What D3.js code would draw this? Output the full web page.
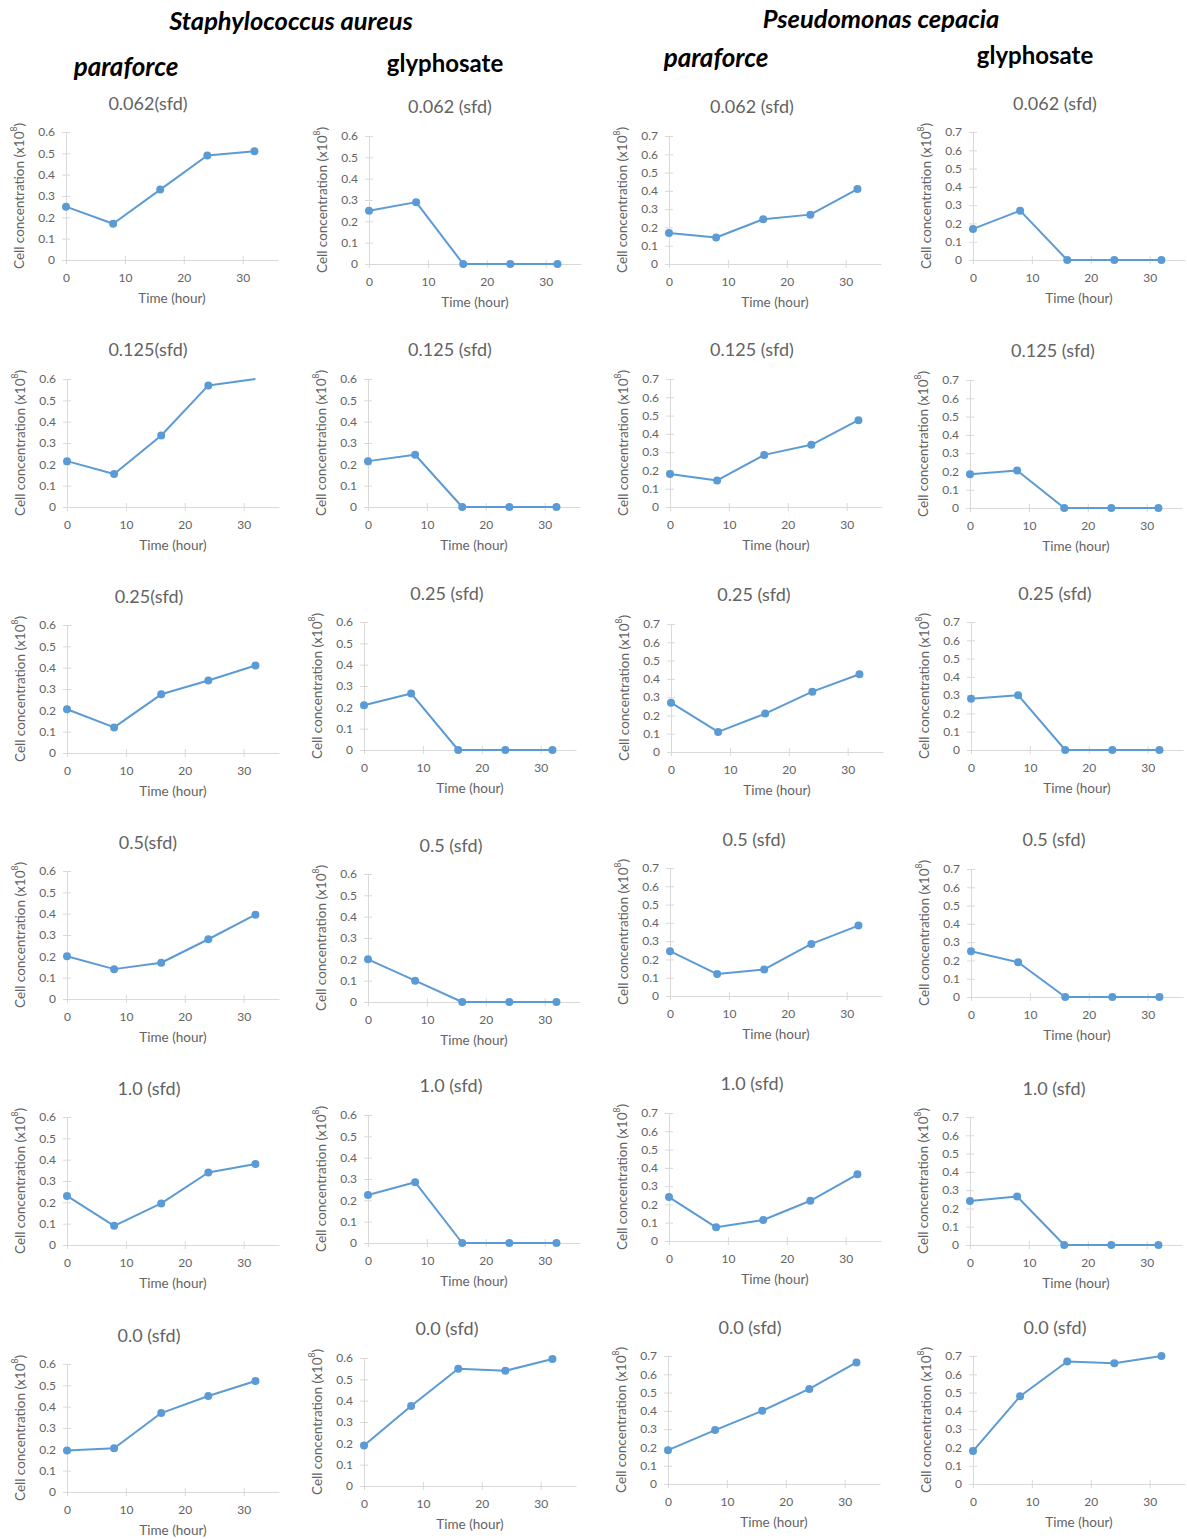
<!DOCTYPE html>
<html>
<head>
<meta charset="utf-8">
<script src="https://cdn.jsdelivr.net/npm/d3@7"></script>
<style>
  body { margin: 0; background: #fff; }
  text { font-family: Lato, "Open Sans", sans-serif; }
</style>
</head>
<body>
<svg id="chart"></svg>
<script>
// sampling times (hour)
const times = [0, 8, 16, 24, 32];
const xTicks = [0, 10, 20, 30];

// panel titles, one list per column (rows top to bottom)
const titlesSaParaforce = ['0.062(sfd)', '0.125(sfd)', '0.25(sfd)', '0.5(sfd)', '1.0 (sfd)', '0.0 (sfd)'];
const titlesOther = ['0.062 (sfd)', '0.125 (sfd)', '0.25 (sfd)', '0.5 (sfd)', '1.0 (sfd)', '0.0 (sfd)'];

// cell concentration (x10^8), one row per dose
const saParaforce = [
  [0.25, 0.17, 0.33, 0.49, 0.51],
  [0.215, 0.155, 0.335, 0.57, 0.60],
  [0.205, 0.12, 0.275, 0.34, 0.41],
  [0.20, 0.14, 0.17, 0.28, 0.395],
  [0.23, 0.09, 0.195, 0.34, 0.38],
  [0.195, 0.205, 0.37, 0.45, 0.52]
];
const saGlyphosate = [
  [0.25, 0.29, 0, 0, 0],
  [0.215, 0.245, 0, 0, 0],
  [0.21, 0.265, 0, 0, 0],
  [0.20, 0.10, 0, 0, 0],
  [0.225, 0.285, 0, 0, 0],
  [0.19, 0.375, 0.55, 0.54, 0.595]
];
const pcParaforce = [
  [0.17, 0.145, 0.245, 0.27, 0.41],
  [0.18, 0.145, 0.285, 0.34, 0.475],
  [0.27, 0.11, 0.21, 0.33, 0.425],
  [0.245, 0.12, 0.145, 0.285, 0.385],
  [0.24, 0.075, 0.115, 0.22, 0.365],
  [0.185, 0.295, 0.40, 0.52, 0.665]
];
const pcGlyphosate = [
  [0.17, 0.27, 0, 0, 0],
  [0.185, 0.205, 0, 0, 0],
  [0.28, 0.30, 0, 0, 0],
  [0.25, 0.19, 0, 0, 0],
  [0.24, 0.265, 0, 0, 0],
  [0.18, 0.48, 0.67, 0.66, 0.70]
];

const columns = [
  { data: saParaforce, titles: titlesSaParaforce, yMax: 0.6 },
  { data: saGlyphosate, titles: titlesOther, yMax: 0.6 },
  { data: pcParaforce, titles: titlesOther, yMax: 0.7 },
  { data: pcGlyphosate, titles: titlesOther, yMax: 0.7 }
];

// marker not shown in the original (line runs to top edge)
const hiddenMarkers = [{ col: 0, row: 1, idx: 4 }];

// layout: [axis x origin, y of zero line, title x, title y] per row, per column
const layout = [
  [[66, 260, 148, 103], [369, 264, 450, 106], [669, 264, 752, 106], [973, 260, 1055, 103]],
  [[67, 507, 148, 349], [368, 507, 450, 349], [670, 507, 752, 349], [970, 508, 1053, 350]],
  [[67, 753, 149, 596], [364, 750, 447, 593], [671, 752, 754, 594], [971, 750, 1055, 593]],
  [[67, 999, 148, 842], [368, 1002, 451, 845], [670, 996, 754, 839], [971, 997, 1054, 839]],
  [[67, 1245, 149, 1088], [368, 1243, 451, 1085], [669, 1241, 752, 1083], [970, 1245, 1054, 1088]],
  [[67, 1492, 149, 1335], [364, 1486, 447, 1328], [668, 1484, 750, 1327], [973, 1484, 1055, 1327]]
];

const plotW = 212, plotH = 128;
const blue = '#5b9bd5';
const gridGrey = '#d9d9d9';
const textGrey = '#636363';

let svg = d3.select('#chart')
  .attr('width', 1187)
  .attr('height', 1539);

svg.append('rect').attr('width', 1187).attr('height', 1539).attr('fill', '#fff');

// headers
let headers = [
  { text: 'Staphylococcus aureus', x: 291, y: 20, italic: true, size: 25.5 },
  { text: 'Pseudomonas cepacia', x: 881, y: 18, italic: true, size: 25.5 },
  { text: 'paraforce', x: 126, y: 66, italic: true, size: 26 },
  { text: 'glyphosate', x: 445, y: 62, italic: false, size: 24 },
  { text: 'paraforce', x: 716, y: 57, italic: true, size: 26 },
  { text: 'glyphosate', x: 1035, y: 54, italic: false, size: 24 }
];
svg.selectAll('.header')
  .data(headers)
  .enter()
  .append('text')
  .attr('class', 'header')
  .attr('x', d => d.x)
  .attr('y', d => d.y)
  .attr('text-anchor', 'middle')
  .attr('dominant-baseline', 'central')
  .attr('font-size', d => d.size)
  .attr('font-weight', 'bold')
  .attr('font-style', d => d.italic ? 'italic' : 'normal')
  .attr('fill', '#000')
  .text(d => d.text);

columns.forEach((col, c) => {
  col.data.forEach((values, r) => {
    let [x0, y0, tx, ty] = layout[r][c];

    let xScale = d3.scaleLinear().domain([0, 36]).range([x0, x0 + plotW]);
    let yScale = d3.scaleLinear().domain([0, col.yMax]).range([y0, y0 - plotH]);

    let g = svg.append('g').attr('class', `panel panel-${r}-${c}`);

    // title
    g.append('text')
      .attr('x', tx)
      .attr('y', ty)
      .attr('text-anchor', 'middle')
      .attr('dominant-baseline', 'central')
      .attr('font-size', 18)
      .attr('fill', textGrey)
      .text(col.titles[r]);

    // y axis
    let yAxis = g.append('g')
      .attr('transform', `translate(${x0},0)`)
      .call(d3.axisLeft(yScale)
        .tickValues(d3.range(0, col.yMax + 0.001, 0.1))
        .tickFormat(v => v === 0 ? '0' : d3.format('.1f')(v))
        .tickSize(4)
        .tickPadding(7));
    yAxis.select('.domain').attr('stroke', gridGrey);
    yAxis.selectAll('.tick line').attr('stroke', gridGrey).attr('x2', 4).attr('x1', -4);
    yAxis.selectAll('.tick text')
      .attr('fill', textGrey)
      .attr('font-size', 12)
      .attr('font-family', 'Lato, sans-serif');

    // x axis
    let xAxis = g.append('g')
      .attr('transform', `translate(0,${y0})`)
      .call(d3.axisBottom(xScale)
        .tickValues(xTicks)
        .tickSize(4)
        .tickSizeOuter(0)
        .tickPadding(9));
    xAxis.select('.domain').attr('stroke', gridGrey);
    xAxis.selectAll('.tick line').attr('stroke', gridGrey).attr('y1', -4).attr('y2', 4);
    xAxis.selectAll('.tick text')
      .attr('fill', textGrey)
      .attr('font-size', 12)
      .attr('font-family', 'Lato, sans-serif');

    // axis titles
    g.append('text')
      .attr('x', x0 + plotW / 2)
      .attr('y', y0 + 38)
      .attr('text-anchor', 'middle')
      .attr('dominant-baseline', 'central')
      .attr('font-size', 13.5)
      .attr('fill', textGrey)
      .text('Time (hour)');

    let yl = g.append('text')
      .attr('transform', `translate(${x0 - 47},${y0 - plotH / 2}) rotate(-90)`)
      .attr('text-anchor', 'middle')
      .attr('dominant-baseline', 'central')
      .attr('font-size', 13.5)
      .attr('fill', textGrey);
    yl.append('tspan').text('Cell concentration (x10');
    yl.append('tspan').attr('font-size', 8.5).attr('dy', -5).text('8');
    yl.append('tspan').attr('dy', 5).text(')');

    // series
    let pts = times.map((t, i) => ({ t: t, v: values[i], i: i }));

    g.append('path')
      .datum(pts)
      .attr('fill', 'none')
      .attr('stroke', blue)
      .attr('stroke-width', 2)
      .attr('stroke-linejoin', 'round')
      .attr('d', d3.line()
        .x(d => xScale(d.t))
        .y(d => yScale(d.v)));

    g.selectAll('.marker')
      .data(pts.filter(d => !hiddenMarkers.some(h => h.col == c && h.row == r && h.idx == d.i)))
      .enter()
      .append('circle')
      .attr('class', 'marker')
      .attr('cx', d => xScale(d.t))
      .attr('cy', d => yScale(d.v))
      .attr('r', 4)
      .attr('fill', blue);
  });
});
</script>
</body>
</html>
